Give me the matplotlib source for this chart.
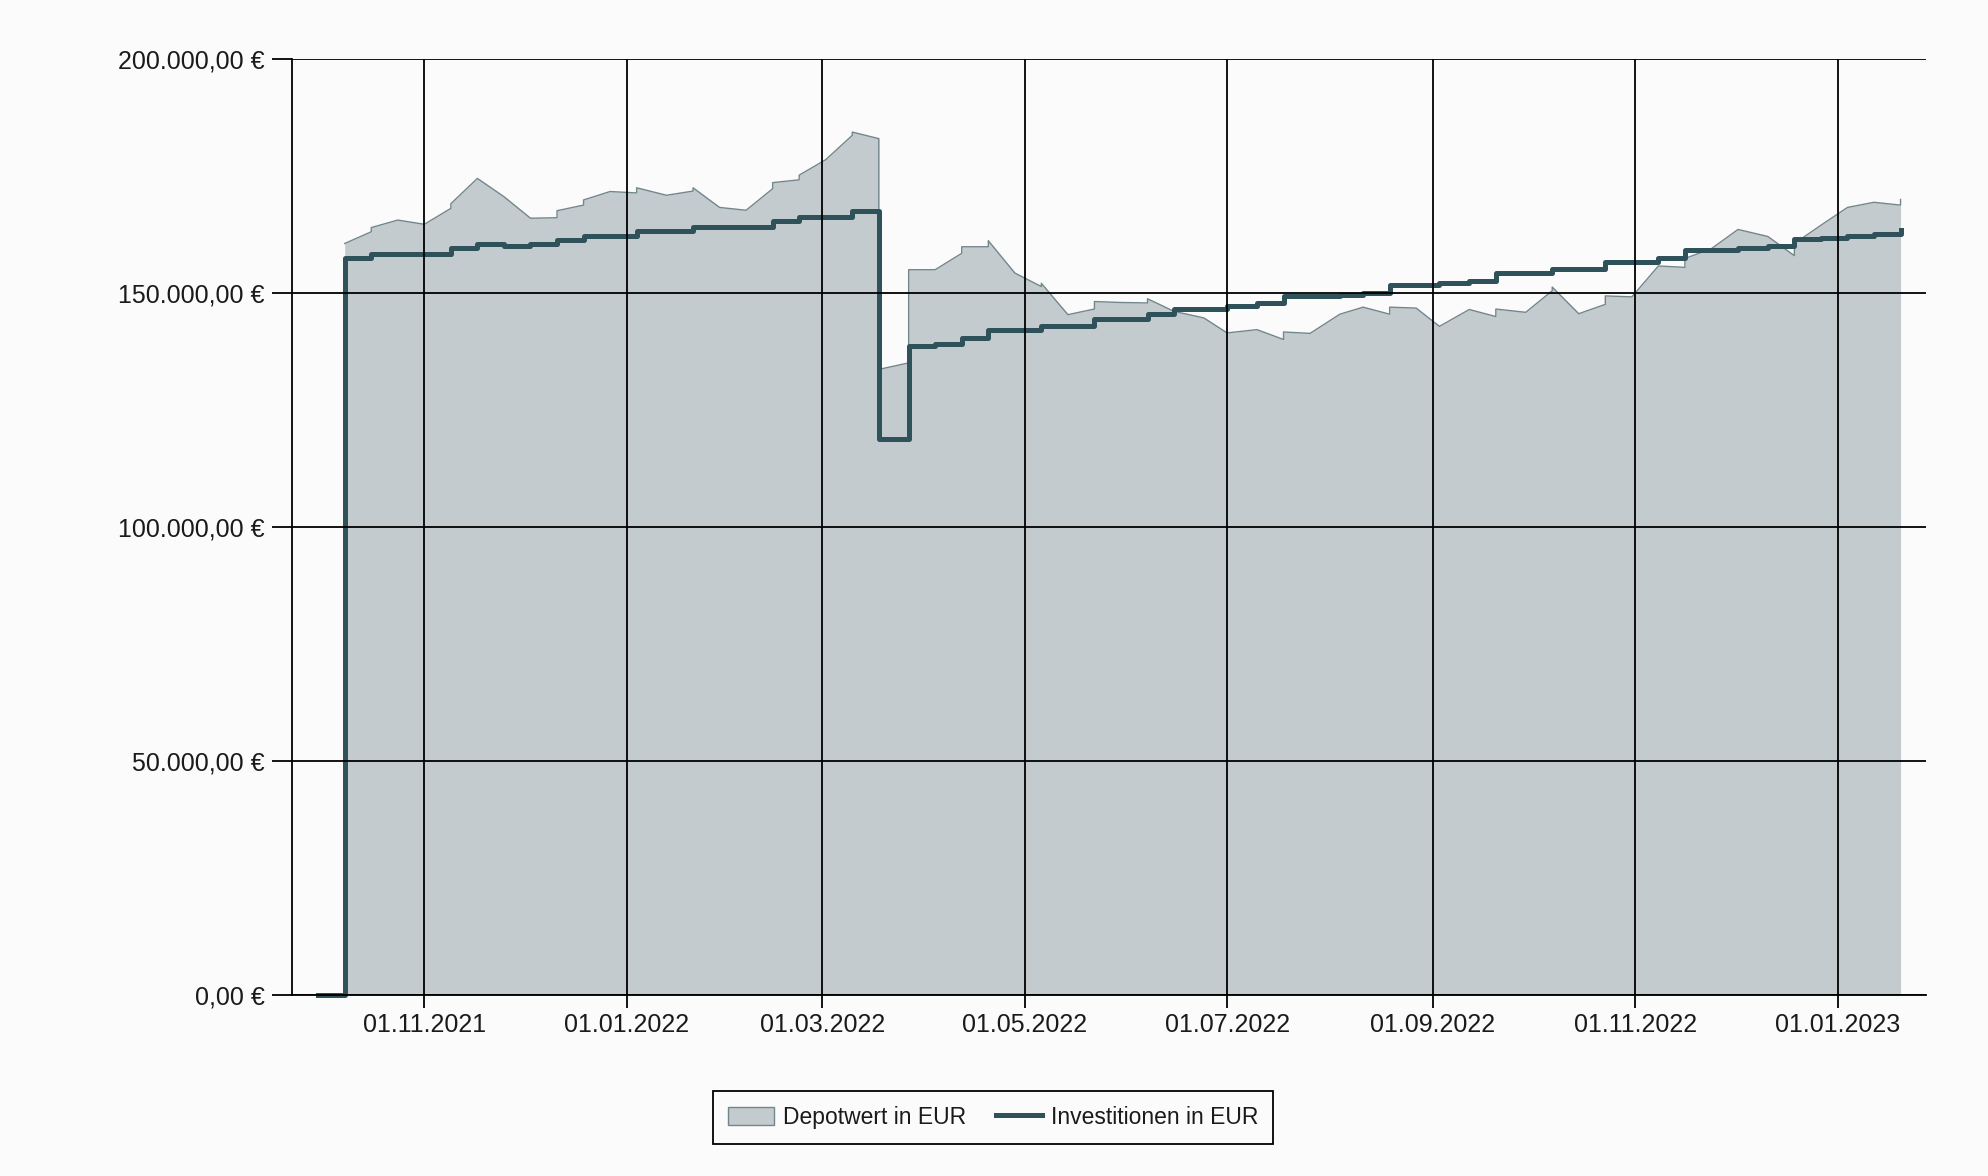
import matplotlib
matplotlib.use('Agg')
from matplotlib import pyplot as plt
import matplotlib.dates as mdates
from matplotlib.ticker import MultipleLocator, FuncFormatter
from matplotlib.patches import Patch
from matplotlib.lines import Line2D
import numpy as np
import pandas as pd

plt.rcParams['font.family'] = ['Liberation Sans', 'DejaVu Sans']

BG = '#fbfbfb'
FILL = '#c4cbce'
EDGE = '#72868b'
INV = '#2f5159'
TXT = '#1a1a1a'

# Depotwert (Tsd. EUR), doppelte Daten = senkrechte Sprünge
depot_dates = [
    '2021-10-08', '2021-10-16', '2021-10-16', '2021-10-24', '2021-11-01',
    '2021-11-09', '2021-11-09', '2021-11-17', '2021-11-25', '2021-12-03',
    '2021-12-11', '2021-12-11', '2021-12-19', '2021-12-19', '2021-12-27',
    '2022-01-04', '2022-01-04', '2022-01-13', '2022-01-21', '2022-01-21',
    '2022-01-29', '2022-02-06', '2022-02-14', '2022-02-14', '2022-02-22',
    '2022-02-22', '2022-03-02', '2022-03-10', '2022-03-10', '2022-03-18',
    '2022-03-18', '2022-03-27', '2022-03-27', '2022-04-04', '2022-04-12',
    '2022-04-12', '2022-04-20', '2022-04-20', '2022-04-28', '2022-05-06',
    '2022-05-06', '2022-05-14', '2022-05-22', '2022-05-22', '2022-05-30',
    '2022-06-07', '2022-06-07', '2022-06-15', '2022-06-24', '2022-07-01',
    '2022-07-10', '2022-07-18', '2022-07-18', '2022-07-26', '2022-08-04',
    '2022-08-11', '2022-08-19', '2022-08-19', '2022-08-27', '2022-09-03',
    '2022-09-12', '2022-09-20', '2022-09-20', '2022-09-29', '2022-10-07',
    '2022-10-07', '2022-10-15', '2022-10-23', '2022-10-23', '2022-10-31',
    '2022-11-08', '2022-11-16', '2022-11-16', '2022-11-24', '2022-12-02',
    '2022-12-11', '2022-12-19', '2022-12-19', '2022-12-27', '2023-01-04',
    '2023-01-12', '2023-01-20', '2023-01-20',
]
depot_values = [
    160.6, 163.1, 164.0, 165.6, 164.7,
    168.1, 169.1, 174.5, 170.6, 166.0,
    166.1, 167.6, 168.8, 169.9, 171.7,
    171.4, 172.5, 170.9, 171.8, 172.5,
    168.3, 167.7, 172.3, 173.6, 174.2,
    175.2, 178.5, 183.7, 184.4, 183.0,
    133.7, 135.1, 155.0, 155.0, 158.5,
    159.9, 159.9, 161.2, 154.3, 151.4,
    152.1, 145.4, 146.6, 148.2, 148.0,
    147.9, 148.8, 146.1, 144.7, 141.5,
    142.2, 140.1, 141.7, 141.4, 145.5,
    147.0, 145.5, 147.0, 146.8, 142.9,
    146.5, 145.0, 146.6, 145.9, 150.5,
    151.3, 145.6, 147.6, 149.4, 149.2,
    155.8, 155.5, 157.4, 159.5, 163.6,
    162.1, 158.0, 160.6, 164.5, 168.3,
    169.4, 168.8, 170.0,
]

# Investitionen (Tsd. EUR), Stufenlinie
invest_dates = [
    '2021-09-30', '2021-10-08', '2021-10-16', '2021-11-09', '2021-11-17',
    '2021-11-25', '2021-12-03', '2021-12-11', '2021-12-19', '2022-01-04',
    '2022-01-21', '2022-02-14', '2022-02-22', '2022-03-10', '2022-03-18',
    '2022-03-27', '2022-04-04', '2022-04-12', '2022-04-20', '2022-05-06',
    '2022-05-22', '2022-06-07', '2022-06-15', '2022-07-01', '2022-07-10',
    '2022-07-18', '2022-08-04', '2022-08-11', '2022-08-19', '2022-09-03',
    '2022-09-12', '2022-09-20', '2022-10-07', '2022-10-23', '2022-11-08',
    '2022-11-16', '2022-12-02', '2022-12-11', '2022-12-19', '2022-12-27',
    '2023-01-04', '2023-01-12', '2023-01-20',
]
invest_values = [
    0.0, 157.4, 158.4, 159.6, 160.4,
    160.1, 160.4, 161.3, 162.2, 163.3,
    164.2, 165.4, 166.3, 167.6, 118.8,
    138.7, 139.2, 140.4, 142.1, 142.9,
    144.5, 145.6, 146.7, 147.2, 147.9,
    149.3, 149.5, 150.1, 151.8, 152.1,
    152.6, 154.3, 155.1, 156.7, 157.6,
    159.3, 159.6, 160.1, 161.6, 161.8,
    162.2, 162.6, 163.5,
]

labels = ['Depotwert in EUR', 'Investitionen in EUR']


def eur(v, pos):
    s = f'{v:,.2f}'.replace(',', 'X').replace('.', ',').replace('X', '.')
    return s + ' €'


dep_x = pd.to_datetime(depot_dates)
dep_y = np.array(depot_values) * 1000
inv_x = pd.to_datetime(invest_dates)
inv_y = np.array(invest_values) * 1000

fig = plt.figure(figsize=(19.88, 11.76), dpi=100, facecolor=BG)
ax = fig.add_axes([0.1467, 0.1536, 0.8221, 0.7962])
ax.set_facecolor(BG)

ax.fill_between(dep_x, 0, dep_y, color=FILL, lw=0, zorder=1)
ax.plot(dep_x, dep_y, color=EDGE, lw=1.0, zorder=1.5)
ax.step(inv_x, inv_y, where='post', color=INV, lw=3.6, zorder=2, clip_on=False)

ax.set_xlim(pd.Timestamp('2021-09-22'), pd.Timestamp('2023-01-27 16:00'))
ax.set_ylim(0, 200000)
ax.xaxis.set_major_locator(mdates.MonthLocator(bymonth=[1, 3, 5, 7, 9, 11]))
ax.xaxis.set_major_formatter(mdates.DateFormatter('%d.%m.%Y'))
ax.yaxis.set_major_locator(MultipleLocator(50000))
ax.yaxis.set_major_formatter(FuncFormatter(eur))

ax.grid(True, color='black', lw=1.3)
ax.set_axisbelow(False)
for s in ['top', 'right']:
    ax.spines[s].set_visible(False)
for s in ['left', 'bottom']:
    ax.spines[s].set_linewidth(1.3)
ax.tick_params(axis='y', length=14.4, width=1.3, pad=5, labelsize=18, labelcolor=TXT)
ax.tick_params(axis='x', length=9.4, width=1.3, pad=3, labelsize=18, labelcolor=TXT)

handles = [Patch(facecolor=FILL, edgecolor=EDGE, lw=1.0),
           Line2D([], [], color=INV, lw=3.6)]
leg = fig.legend(handles, labels, loc='center', bbox_to_anchor=(0.4997, 0.050),
                 ncol=2, fontsize=16.5, frameon=True, fancybox=False,
                 edgecolor='black', facecolor=BG, framealpha=1,
                 handlelength=2.0, handleheight=0.85, handletextpad=0.4,
                 columnspacing=1.3, borderpad=0.65)
leg.get_frame().set_linewidth(1.3)
for t in leg.get_texts():
    t.set_color(TXT)

fig.savefig('out.png', dpi=100, facecolor=BG)
